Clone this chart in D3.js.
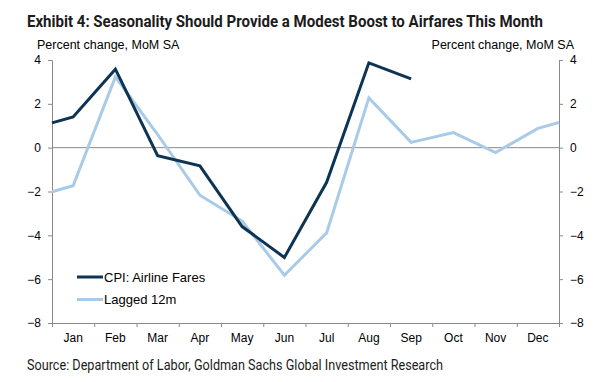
<!DOCTYPE html>
<html>
<head>
<meta charset="utf-8">
<script src="https://cdn.jsdelivr.net/npm/d3@7"></script>
<style>
  body { margin: 0; background: #fff; }
  svg { display: block; }
  .tick text { font-family: "Liberation Sans", Arial, sans-serif; font-size: 12px; fill: #000; }
</style>
</head>
<body>
<svg id="chart" width="610" height="382"></svg>
<script>

var months = ["Jan","Feb","Mar","Apr","May","Jun","Jul","Aug","Sep","Oct","Nov","Dec"]
var yTicks = [4, 2, 0, -2, -4, -6, -8]

// month index (-0.5 / 11.5 are the plot edges where the lines run out)
var cpi_x = [-0.5, 0, 1, 2, 3, 4, 5, 6, 7, 8]
var cpi_values = [1.13, 1.4, 3.58, -0.37, -0.83, -3.6, -5.01, -1.58, 3.87, 3.14]

var lagged_x = [-0.5, 0, 1, 2, 3, 4, 5, 6, 7, 8, 9, 10, 11, 11.5]
var lagged_values = [-2.01, -1.74, 3.23, 0.6, -2.17, -3.35, -5.82, -3.89, 2.27, 0.24, 0.69, -0.22, 0.88, 1.15]

var seriesNames = ["CPI: Airline Fares", "Lagged 12m"]
var seriesColors = ["#0d3453", "#a9cbe8"]

var svg = d3.select("#chart")
var plotLeft = 52, plotRight = 559, plotTop = 60, plotBottom = 323

var x = d3.scaleLinear().domain([-0.5, 11.5]).range([plotLeft, plotRight])
var xBand = d3.scaleBand().domain(months).range([plotLeft, plotRight])
var y = d3.scaleLinear().domain([-8, 4]).range([plotBottom, plotTop])

// title + source
svg.append("text")
    .attr("x", 27).attr("y", 27)
    .attr("textLength", 516).attr("lengthAdjust", "spacingAndGlyphs")
    .style("font-family", "Roboto, 'Liberation Sans', sans-serif")
    .style("font-weight", "bold").style("font-size", "16.5px").style("fill", "#1c1c1c")
    .text("Exhibit 4: Seasonality Should Provide a Modest Boost to Airfares This Month")

svg.append("text")
    .attr("x", 27).attr("y", 370)
    .attr("textLength", 416).attr("lengthAdjust", "spacingAndGlyphs")
    .style("font-family", "Roboto, 'Liberation Sans', sans-serif")
    .style("font-size", "14px").style("fill", "#1c1c1c")
    .text("Source: Department of Labor, Goldman Sachs Global Investment Research")

// axis titles
svg.append("text")
    .attr("x", 37).attr("y", 49)
    .style("font-family", "'Liberation Sans', Arial, sans-serif").style("font-size", "12.5px")
    .text("Percent change, MoM SA")
svg.append("text")
    .attr("x", 574).attr("y", 49).attr("text-anchor", "end")
    .style("font-family", "'Liberation Sans', Arial, sans-serif").style("font-size", "12.5px")
    .text("Percent change, MoM SA")

// y axes
svg.append("g")
    .attr("transform", "translate(" + plotLeft + ",0)")
    .call(d3.axisLeft(y).tickValues(yTicks).tickSize(4).tickPadding(7).tickFormat(d3.format("d")))
svg.append("g")
    .attr("transform", "translate(" + plotRight + ",0)")
    .call(d3.axisRight(y).tickValues(yTicks).tickSize(4).tickPadding(7).tickFormat(d3.format("d")))

// x axis: ticks at month boundaries, labels centred
svg.append("g")
    .attr("transform", "translate(0," + plotBottom + ")")
    .call(d3.axisBottom(x).tickValues(d3.range(-0.5, 12, 1)).tickSize(4).tickFormat(""))
svg.append("g")
    .attr("transform", "translate(0," + plotBottom + ")")
    .call(d3.axisBottom(xBand).tickSize(0).tickPadding(10))
    .select(".domain").remove()

svg.selectAll(".domain").attr("stroke", "#8a8a8a")
svg.selectAll(".tick line").attr("stroke", "#8a8a8a")

// zero line
svg.append("line")
    .attr("x1", plotLeft).attr("x2", plotRight)
    .attr("y1", y(0)).attr("y2", y(0))
    .attr("stroke", "#8a8a8a").attr("stroke-width", 1)

var line = d3.line().x(function(d){ return x(d[0]) }).y(function(d){ return y(d[1]) })

svg.append("path")
    .datum(d3.zip(lagged_x, lagged_values))
    .attr("d", line).attr("fill", "none")
    .attr("stroke", seriesColors[1]).attr("stroke-width", 3)

svg.append("path")
    .datum(d3.zip(cpi_x, cpi_values))
    .attr("d", line).attr("fill", "none")
    .attr("stroke", seriesColors[0]).attr("stroke-width", 3)

// legend
seriesNames.forEach(function(name, i){
  var ly = 277 + i * 22.5
  svg.append("line")
      .attr("x1", 77).attr("x2", 103).attr("y1", ly).attr("y2", ly)
      .attr("stroke", seriesColors[i]).attr("stroke-width", 3)
  svg.append("text")
      .attr("x", 104).attr("y", ly + 4.5)
      .style("font-family", "'Liberation Sans', Arial, sans-serif").style("font-size", "13px")
      .text(name)
})

</script>
</body>
</html>
